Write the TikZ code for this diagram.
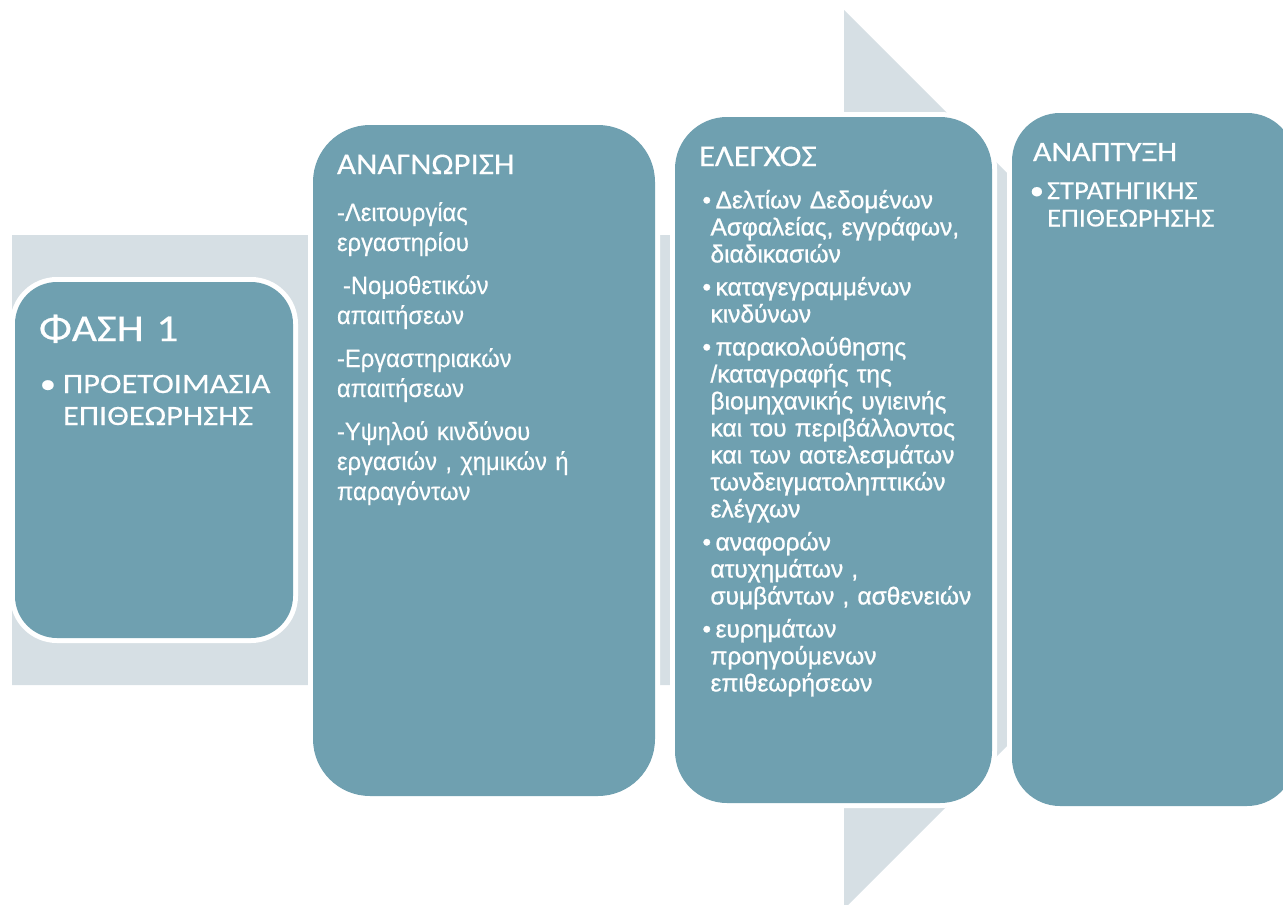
\documentclass[tikz,border=0pt]{standalone}
\usepackage{fontspec}
\setmainfont{Liberation Sans}
\newfontfamily\ttlfont[FakeStretch=1.1,FakeBold=0.3]{Carlito}
\newfontfamily\ttlwfont[FakeStretch=1.14,FakeBold=0.5]{Carlito}
\newfontfamily\fasefont[FakeStretch=1.14,FakeBold=0.4]{Carlito}
\newfontfamily\fasebfont[FakeStretch=1.16,FakeBold=0.3]{Carlito}
\newfontfamily\bodyfont[FakeStretch=0.95,FakeBold=0.4]{Liberation Sans}
\newfontfamily\wbodyfont[FakeStretch=1.0,FakeBold=1]{Liberation Sans}
\definecolor{boxteal}{RGB}{111,160,176}
\definecolor{arrowgray}{RGB}{214,223,228}
\newcommand{\elbul}{\hspace*{-8pt}•\hspace{4.5pt}}
\begin{document}
\begin{tikzpicture}[x=1pt,y=-1pt,
  phasebox/.style={shape=rectangle, fill=boxteal, preaction={draw=white, line width=10pt},
    inner sep=0pt, outer sep=0pt},
  txt/.style={anchor=base west, inner sep=0pt, outer sep=0pt, text=white,
    align=left, text width=330pt}]
\useasboundingbox (0,0) rectangle (1283,905);
\clip (0,0) rectangle (1283,905);
% background arrow
\fill[arrowgray] (12,235) -- (844,235) -- (844,10) -- (1293.5,459.5) -- (844,909)
  -- (844,685) -- (12,685) -- cycle;
% boxes
\node[phasebox, rounded corners=42pt, minimum width=278pt, minimum height=356pt] (b1) at (154,460) {};
\node[phasebox, rounded corners=57pt, minimum width=342pt, minimum height=671pt] (b2) at (484,460.5) {};
\node[phasebox, rounded corners=52pt, minimum width=317pt, minimum height=686pt] (b3) at (833.5,460) {};
\node[phasebox, rounded corners=48pt, minimum width=283pt, minimum height=693pt] (b4) at (1153.5,459.5) {};
% box 1 text
\node[txt, font=\fasefont\fontsize{38}{40}\selectfont] (t1a) at (39,341) {ΦΑΣΗ 1};
\node[txt, font=\fasebfont\fontsize{28}{32}\selectfont] (t1b) at (63,393)
  {\llap{•\hspace{7pt}}ΠΡΟΕΤΟΙΜΑΣΙΑ\\ΕΠΙΘΕΩΡΗΣΗΣ};
% box 2 text
\node[txt, font=\ttlfont\fontsize{30}{34}\selectfont] (t2a) at (337,174) {ΑΝΑΓΝΩΡΙΣΗ};
\node[txt, font=\bodyfont\fontsize{25}{30}\selectfont] (t2b) at (337,221)
  {-Λειτουργίας\\
   εργαστηρίου\\[13pt]
   \hspace*{6pt}-Νομοθετικών\\
   απαιτήσεων\\[13pt]
   -Εργαστηριακών\\
   απαιτήσεων\\[13pt]
   -Υψηλού κινδύνου\\
   εργασιών , χημικών ή\\
   παραγόντων};
% box 3 text
\node[txt, font=\ttlfont\fontsize{30}{34}\selectfont] (t3a) at (699,166) {ΕΛΕΓΧΟΣ};
\node[txt, font=\wbodyfont\fontsize{24.5}{27}\selectfont] (t3b) at (710.5,208.4)
  {\elbul Δελτίων Δεδομένων\\
   Ασφαλείας, εγγράφων,\\
   διαδικασιών\\[6pt]
   \elbul καταγεγραμμένων\\
   κινδύνων\\[6pt]
   \elbul παρακολούθησης\\
   /καταγραφής της\\
   βιομηχανικής υγιεινής\\
   και του περιβάλλοντος\\
   και των αοτελεσμάτων\\
   τωνδειγματοληπτικών\\
   ελέγχων\\[6pt]
   \elbul αναφορών\\
   ατυχημάτων ,\\
   συμβάντων , ασθενειών\\[6pt]
   \elbul ευρημάτων\\
   προηγούμενων\\
   επιθεωρήσεων};
% box 4 text
\node[txt, font=\ttlwfont\fontsize{28}{32}\selectfont] (t4a) at (1033,161) {ΑΝΑΠΤΥΞΗ};
\node[txt, font=\ttlfont\fontsize{26}{27.5}\selectfont] (t4b) at (1047,199)
  {\llap{•\hspace{3pt}}ΣΤΡΑΤΗΓΙΚΗΣ\\ΕΠΙΘΕΩΡΗΣΗΣ};
\end{tikzpicture}
\end{document}
